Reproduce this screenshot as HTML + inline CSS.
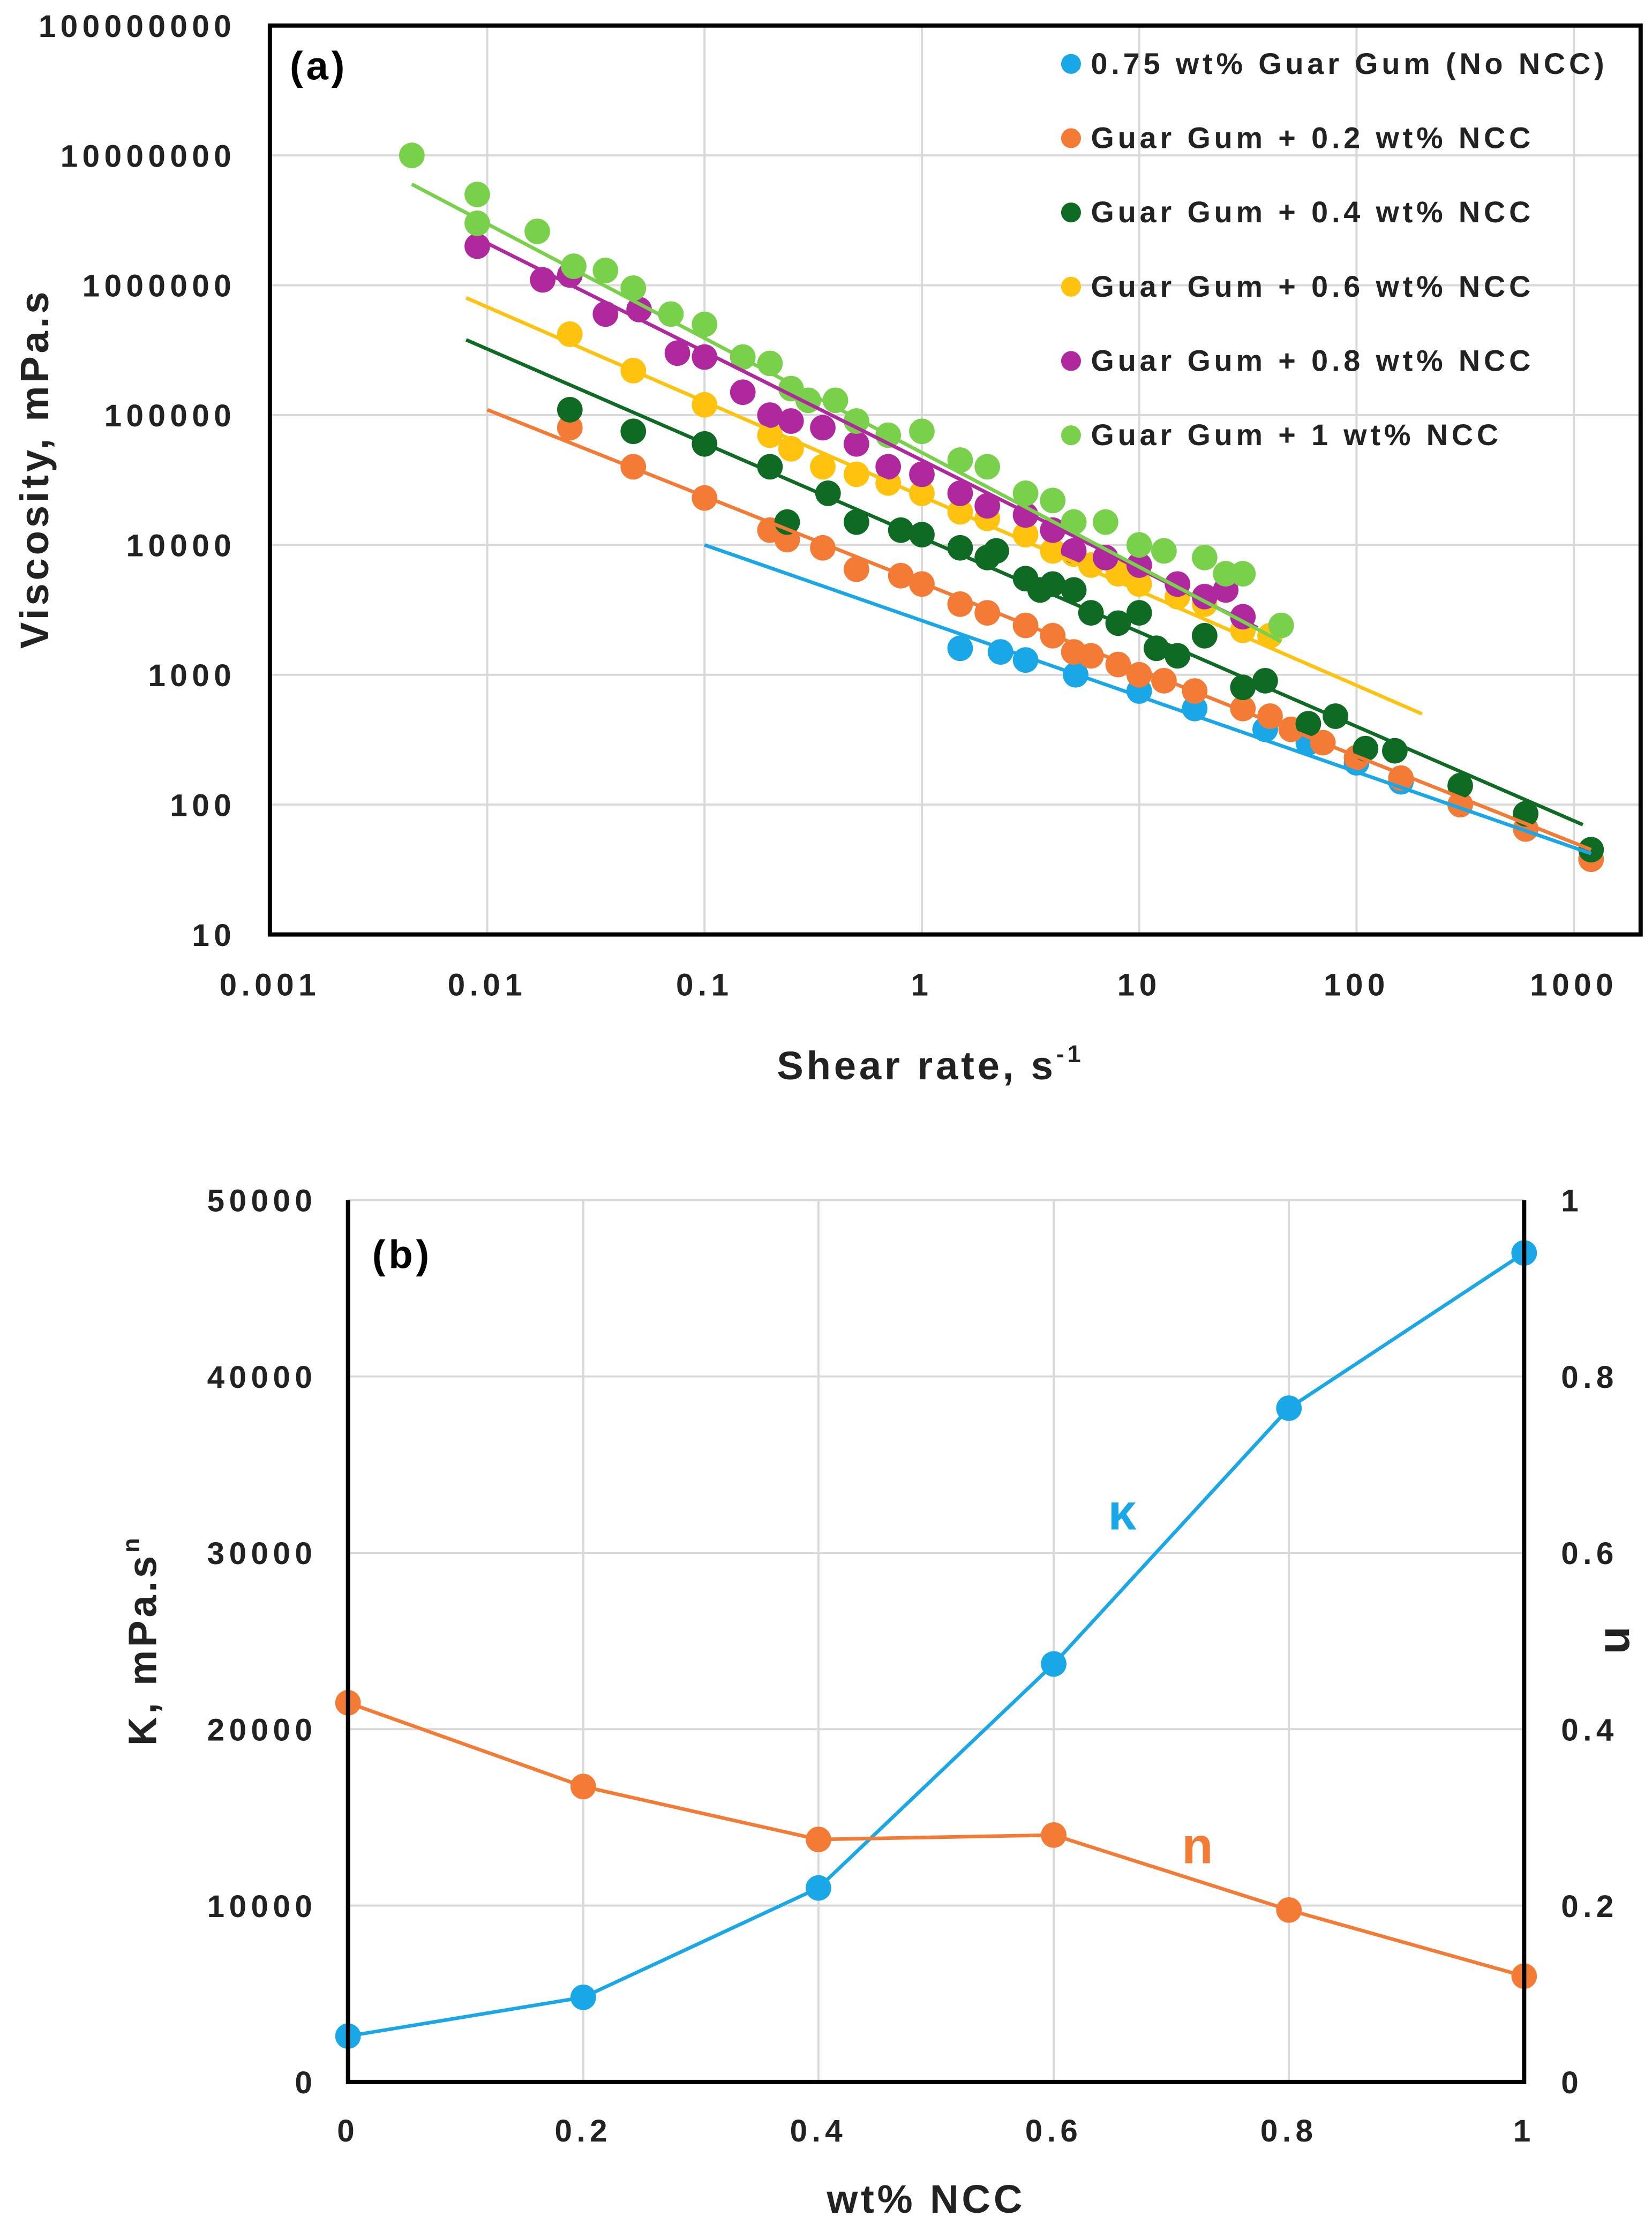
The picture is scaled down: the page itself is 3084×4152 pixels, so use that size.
<!DOCTYPE html>
<html><head><meta charset="utf-8"><style>
html,body{margin:0;padding:0;background:#fff}
svg{display:block;font-family:"Liberation Sans",Arial,sans-serif;font-weight:bold}
.tk{font-size:22px;letter-spacing:3.2px}
.lg{font-size:21px;letter-spacing:2.6px}
.ti{letter-spacing:2.2px}
</style></head><body>
<svg id="s" width="3084" height="4152" viewBox="0 0 1163 1566" preserveAspectRatio="none">
<rect x="0" y="0" width="1163" height="1566" fill="#fff"/>
<g id="ga"></g>
<g id="gb"></g>
</svg>
<script>
// ---------- Chart (a) data ----------
const seriesNames=["0.75 wt% Guar Gum (No NCC)","Guar Gum + 0.2 wt% NCC","Guar Gum + 0.4 wt% NCC","Guar Gum + 0.6 wt% NCC","Guar Gum + 0.8 wt% NCC","Guar Gum + 1 wt% NCC"];
const seriesColors=["#1aa7e8","#f47b35","#0f6b24","#ffc20e","#b0289e","#79d04a"];
const gg0x=[1.5,2.3,3,5.1,10,18,38,60,100,160,300,600,1200];
const gg0y=[1600,1500,1300,1000,750,550,380,300,210,150,100,65,38];
const gg2x=[0.024,0.047,0.1,0.2,0.24,0.35,0.5,0.8,1,1.5,2,3,4,5,6,8,10,13,18,30,40,50,70,100,160,300,600,1200];
const gg2y=[80000,40000,23000,13000,11000,9500,6500,5800,5000,3500,3000,2400,2000,1500,1400,1200,1000,900,750,550,480,380,300,230,160,100,65,38];
const gg4x=[0.024,0.047,0.1,0.2,0.24,0.37,0.5,0.8,1,1.5,2,2.2,3,3.5,4,5,6,8,10,12,15,20,30,38,60,80,110,150,300,600,1200];
const gg4y=[110000,75000,60000,40000,15000,25000,15000,13000,12000,9500,8000,9000,5500,4500,5000,4500,3000,2500,3000,1600,1400,2000,800,900,420,480,270,260,140,85,45];
const gg6x=[0.024,0.047,0.1,0.2,0.25,0.35,0.5,0.7,1,1.5,2,3,4,5,6,8,10,15,20,30,40];
const gg6y=[420000,220000,120000,70000,55000,40000,35000,30000,25000,18000,16000,12000,9000,8500,7000,6000,5000,4000,3500,2200,2000];
const gg8x=[0.009,0.018,0.024,0.035,0.05,0.075,0.1,0.15,0.2,0.25,0.35,0.5,0.7,1,1.5,2,3,4,5,7,10,15,20,25,30];
const gg8y=[2000000,1100000,1200000,600000,650000,300000,280000,150000,100000,90000,80000,60000,40000,35000,25000,20000,17000,13000,9000,8000,7000,5000,4000,4500,2800];
const gg10x=[0.0045,0.009,0.009,0.017,0.025,0.035,0.047,0.07,0.1,0.15,0.2,0.25,0.3,0.4,0.5,0.7,1,1.5,2,3,4,5,7,10,13,20,25,30,45];
const gg10y=[10000000,5000000,3000000,2600000,1400000,1300000,950000,600000,500000,280000,250000,160000,130000,130000,90000,70000,75000,45000,40000,25000,22000,15000,15000,10000,9000,8000,6000,6000,2400];
const fitX1=[0.1,0.01,0.008,0.008,0.009,0.0045];
const fitY1=[10000,110000,380000,800000,2300000,6000000];
const fitX2=[1200,1200,1100,200,35,45];
const fitY2=[42,45,70,500,2300,1800];
const xTicksA=["0.001","0.01","0.1","1","10","100","1000"];
const yTicksA=["10","100","1000","10000","100000","1000000","10000000","100000000"];
// ---------- Chart (b) data ----------
const ncc=[0,0.2,0.4,0.6,0.8,1];
const kVals=[2600,4800,11000,23700,38200,47000];
const nVals=[0.43,0.335,0.275,0.28,0.195,0.12];
const xTicksB=["0","0.2","0.4","0.6","0.8","1"];
const yTicksB=["0","10000","20000","30000","40000","50000"];
const y2TicksB=["0","0.2","0.4","0.6","0.8","1"];

const NS="http://www.w3.org/2000/svg";
function mk(parent,tag,attrs,text){const e=document.createElementNS(NS,tag);for(const k in attrs)e.setAttribute(k,attrs[k]);if(text!==undefined)e.textContent=text;parent.appendChild(e);return e;}

// ----- Chart a -----
const ga=document.getElementById('ga');
const AL=190,AR=1155,AT=18,AB=658;
const xA=v=>AL+(Math.log10(v)+3)*153;
const yA=v=>AB-(Math.log10(v)-1)*(AB-AT)/7;
for(let i=0;i<xTicksA.length;i++){const x=xA(parseFloat(xTicksA[i]));
 const g=mk(ga,'line',{x1:x,x2:x,y1:AT,y2:AB,stroke:'#d9d9d9','stroke-width':1.5});
 
 const t=mk(ga,'text',{x:x,y:AB+43,'text-anchor':'middle',class:'tk',fill:'#222'},xTicksA[i]);
 }
for(let i=0;i<yTicksA.length;i++){const y=yA(parseFloat(yTicksA[i]));
 const g=mk(ga,'line',{x1:AL,x2:AR,y1:y,y2:y,stroke:'#d9d9d9','stroke-width':1.5});
 
 const t=mk(ga,'text',{x:AL-24,y:y+8,'text-anchor':'end',class:'tk',fill:'#222'},yTicksA[i]);
 }
const xs=[gg0x,gg2x,gg4x,gg6x,gg8x,gg10x],ys=[gg0y,gg2y,gg4y,gg6y,gg8y,gg10y];
for(let s=0;s<6;s++){const g=mk(ga,'g',{});
 for(let i=0;i<xs[s].length;i++){const c=mk(g,'circle',{cx:xA(xs[s][i]),cy:yA(ys[s][i]),r:9,fill:seriesColors[s]});
  }}
for(let s=0;s<6;s++){const l=mk(ga,'line',{x1:xA(fitX1[s]),y1:yA(fitY1[s]),x2:xA(fitX2[s]),y2:yA(fitY2[s]),stroke:seriesColors[s],'stroke-width':2.5});
 }
const fa=mk(ga,'rect',{x:AL,y:AT,width:AR-AL,height:AB-AT,fill:'none',stroke:'#000','stroke-width':3});

for(let s=0;s<6;s++){const y=45+s*52.3;
 const c=mk(ga,'circle',{cx:754,cy:y,r:7,fill:seriesColors[s]});
 const t=mk(ga,'text',{x:768,y:y+7,class:'lg',fill:'#222'},seriesNames[s]);}
let t=mk(ga,'text',{x:204,y:56,'font-size':28,class:'ti',fill:'#000'},'(a)');
t=mk(ga,'text',{x:0,y:0,'font-size':28,class:'ti',fill:'#222','text-anchor':'middle',transform:'translate(34,330) rotate(-90)'},'Viscosity, mPa.s');
t=mk(ga,'text',{x:655,y:760,'font-size':28,class:'ti',fill:'#222','text-anchor':'middle'},'Shear rate, s');
mk(t,'tspan',{'font-size':17,dy:-12},'-1');

// ----- Chart b -----
const gb=document.getElementById('gb');
const BL=245,BR=1073,BT=845,BB=1466;
const xB=v=>BL+v*(BR-BL);
const yB=v=>BB-v/50000*(BB-BT);
const y2B=v=>BB-v*(BB-BT);
for(let i=0;i<xTicksB.length;i++){const x=xB(parseFloat(xTicksB[i]));
 const g=mk(gb,'line',{x1:x,x2:x,y1:BT,y2:BB,stroke:'#d9d9d9','stroke-width':1.5});
 const tt=mk(gb,'text',{x:x,y:BB+42,'text-anchor':'middle',class:'tk',fill:'#222'},xTicksB[i]);}
for(let i=0;i<yTicksB.length;i++){const y=yB(parseFloat(yTicksB[i]));
 const g=mk(gb,'line',{x1:BL,x2:BR,y1:y,y2:y,stroke:'#d9d9d9','stroke-width':1.5});
 const tt=mk(gb,'text',{x:BL-22,y:y+8,'text-anchor':'end',class:'tk',fill:'#222'},yTicksB[i]);}
for(let i=0;i<y2TicksB.length;i++){const y=y2B(parseFloat(y2TicksB[i]));
 const tt=mk(gb,'text',{x:BR+26,y:y+8,'text-anchor':'start',class:'tk',fill:'#222'},y2TicksB[i]);}
let kp=ncc.map((v,i)=>xB(v)+','+yB(kVals[i])).join(' ');
let pl=mk(gb,'polyline',{points:kp,fill:'none',stroke:'#1aa7e8','stroke-width':2.5});
let np=ncc.map((v,i)=>xB(v)+','+y2B(nVals[i])).join(' ');
pl=mk(gb,'polyline',{points:np,fill:'none',stroke:'#f47b35','stroke-width':2.5});
for(let i=0;i<ncc.length;i++){
 let c=mk(gb,'circle',{cx:xB(ncc[i]),cy:yB(kVals[i]),r:9,fill:'#1aa7e8'});
 c=mk(gb,'circle',{cx:xB(ncc[i]),cy:y2B(nVals[i]),r:9,fill:'#f47b35'});}
const fb=mk(gb,'path',{d:`M${BL},${BT} V${BB} H${BR} V${BT}`,fill:'none',stroke:'#000','stroke-width':3});
t=mk(gb,'text',{x:262,y:893,'font-size':28,class:'ti',fill:'#000'},'(b)');
t=mk(gb,'text',{x:790,y:1077,'font-size':36,fill:'#1aa7e8','text-anchor':'middle'},'κ');
t=mk(gb,'text',{x:843,y:1312,'font-size':36,fill:'#f47b35','text-anchor':'middle'},'n');
t=mk(gb,'text',{x:0,y:0,'font-size':28,class:'ti',fill:'#222','text-anchor':'middle',transform:'translate(110,1155) rotate(-90)'},'K, mPa.s');
mk(t,'tspan',{'font-size':17,dy:-12},'n');
t=mk(gb,'text',{x:0,y:0,'font-size':32,fill:'#222','text-anchor':'middle',transform:'translate(1130,1155) rotate(90)'},'n');
t=mk(gb,'text',{x:652,y:1558,'font-size':28,class:'ti',fill:'#222','text-anchor':'middle'},'wt% NCC');
</script>
</body></html>
